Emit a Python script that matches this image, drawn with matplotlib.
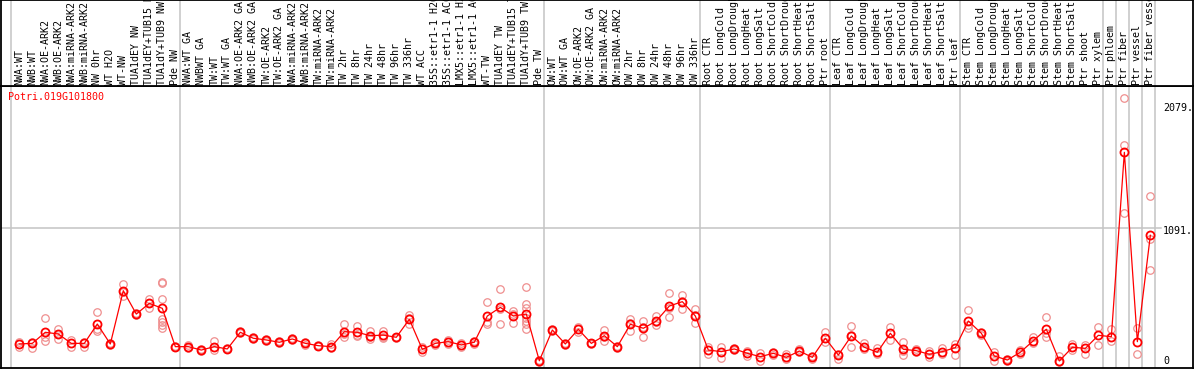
import matplotlib
matplotlib.use("Agg")
import matplotlib.pyplot as plt

gene = "Potri.019G101800"

labels = [
    "NWA:WT", "NWB:WT", "NWA:OE-ARK2", "NWB:OE-ARK2", "NWA:miRNA-ARK2", "NWB:miRNA-ARK2",
    "NW 0hr", "WT H2O", "WT-NW", "TUA1dEY NW", "TUA1dEY+TUB15 NW", "TUA1dY+TUB9 NW", "Pde NW",
    "NWA:WT GA", "NWBWT GA", "TW:WT", "TW:WT GA", "NWA:OE-ARK2 GA", "NWB:OE-ARK2 GA",
    "TW:OE-ARK2", "TW:OE-ARK2 GA", "NWA:miRNA-ARK2", "NWB:miRNA-ARK2", "TW:miRNA-ARK2",
    "TW:miRNA-ARK2", "TW 2hr", "TW 8hr", "TW 24hr", "TW 48hr", "TW 96hr", "TW 336hr",
    "WT ACC", "35S::etr1-1 H2O", "35S::etr1-1 ACC", "LMX5::etr1-1 H2O", "LMX5::etr1-1 ACC",
    "WT-TW", "TUA1dEY TW", "TUA1dEY+TUB15 TW", "TUA1dY+TUB9 TW", "Pde TW",
    "OW:WT", "OW:WT GA", "OW:OE-ARK2", "OW:OE-ARK2 GA", "OW:miRNA-ARK2", "OW:miRNA-ARK2",
    "OW 2hr", "OW 8hr", "OW 24hr", "OW 48hr", "OW 96hr", "OW 336hr",
    "Root CTR", "Root LongCold", "Root LongDrought", "Root LongHeat", "Root LongSalt",
    "Root ShortCold", "Root ShortDrought", "Root ShortHeat", "Root ShortSalt", "Ptr root",
    "Leaf CTR", "Leaf LongCold", "Leaf LongDrought", "Leaf LongHeat", "Leaf LongSalt",
    "Leaf ShortCold", "Leaf ShortDrought", "Leaf ShortHeat", "Leaf ShortSalt", "Ptr leaf",
    "Stem CTR", "Stem LongCold", "Stem LongDrought", "Stem LongHeat", "Stem LongSalt",
    "Stem ShortCold", "Stem ShortDrought", "Stem ShortHeat", "Stem ShortSalt", "Ptr shoot",
    "Ptr xylem", "Ptr phloem", "Ptr fiber", "Ptr vessel", "Ptr fiber vessel",
]

# index of first sample in each group (plus end)
group_starts = [0, 13, 41, 53, 63, 73, 84, 85, 86, 87, 88]

means = [
    140, 145, 236, 222, 145, 145, 304, 140, 578, 386, 474, 433, 118,
    118, 90, 118, 99, 236, 187, 173, 154, 181, 145, 126, 118, 241, 236, 208, 213, 195, 343,
    96, 145, 159, 132, 154, 370, 441, 370, 386, 2,
    255, 140, 261, 145, 208, 118, 302, 269, 329, 452, 488, 370,
    90, 77, 99, 63, 36, 63, 30, 82, 30, 187,
    49, 206, 113, 72, 228, 96, 85, 55, 77, 110,
    329, 228, 41, 8, 72, 167, 261, 0, 113, 104, 211,
    200, 1716, 159, 1034,
]

replicates = [
    [159, 113], [159, 104], [351, 164, 195], [263, 181, 222], [173, 113], [159, 113],
    [400, 249, 263], [148, 132], [633, 534, 567], [395, 377], [510, 433, 479],
    [652, 639, 507, 343, 320, 296, 269], [123, 113],
    [132, 104], [95, 85], [164, 90], [104, 95], [245, 228], [195, 180], [180, 166],
    [163, 145], [190, 172], [159, 132], [130, 122], [137, 108], [304, 200, 220],
    [290, 208, 210], [249, 181, 195], [249, 190, 200], [200, 190], [378, 302, 350],
    [77, 115], [159, 132], [173, 140], [118, 145], [168, 140], [483, 304, 322],
    [592, 304, 427], [414, 310, 386], [606, 469, 433, 350, 328, 304, 261], [5, -5],
    [264, 246], [150, 130], [277, 241], [150, 140], [255, 167, 200], [125, 110],
    [345, 249, 312], [329, 200, 278], [370, 318, 300], [562, 359, 435],
    [543, 425, 496], [425, 310, 375],
    [113, 55], [113, 27], [110, 88], [85, 40], [63, 3], [75, 50], [55, 20], [95, 70],
    [40, 20], [236, 159],
    [60, 16], [290, 113, 215], [145, 100], [104, 60], [282, 173], [159, 49, 80],
    [95, 75], [82, 30], [104, 60], [140, 49],
    [419, 269, 300], [240, 215], [77, 0], [20, 0], [90, 60], [195, 150],
    [359, 195, 230], [40, -10], [140, 90], [130, 60], [277, 132],
    [261, 164], [2160, 1774, 1215], [269, 55], [1360, 1001, 746],
]

ytick_vals = [2079, 1091, 0]
ytick_text = ["2079.", "1091.", "0"]
grid_val = 1091

W, H = 1194, 370
fig = plt.figure(figsize=(W / 100, H / 100), dpi=100)
plt.rcParams["font.family"] = ["DejaVu Sans Mono"]

ax = fig.add_axes([1 / W, (H - 368) / H, 1192 / W, (368 - 86) / H])
hx = fig.add_axes([1 / W, (H - 86) / H, 1192 / W, 86 / H])

xl = (-1.408, 90.28)
for a in (ax, hx):
    a.set_xlim(*xl)
    a.set_xticks([])
    a.set_yticks([])
    for s in a.spines.values():
        s.set_color("black")
        s.set_linewidth(1.3)
    for g in group_starts:
        a.axvline(g - 0.66, color="#c4c4c4", lw=1.1, zorder=1)

ax.set_ylim(-57.6, 2261.5)
hx.set_ylim(0, 86)

ax.axhline(grid_val, xmin=0, xmax=0.973, color="#c4c4c4", lw=1.1, zorder=1)

n = len(means)
xs = list(range(n))
for i, reps in enumerate(replicates):
    ax.plot([i] * len(reps), reps, linestyle="none", marker="o", ms=5.4,
            mfc="none", mec="#ef8f8f", mew=0.9, zorder=2)
ax.plot(xs, means, color="#ff0000", lw=0.9, marker="o", ms=5.8, mfc="none",
        mec="#ff0000", mew=1.3, zorder=3)

for i, lab in enumerate(labels):
    hx.text(i, 1, lab, rotation=90, ha="center", va="bottom", fontsize=7.2,
            color="black", clip_on=True)

ax.text(7 / 1192, (368 - 97) / 282, gene, transform=ax.transAxes, color="#ff0000",
        fontsize=7.2, va="center", ha="left")

tr = ax.get_yaxis_transform()
offs = {2079: 0, 1091: -22, 0: 0}
for v, t in zip(ytick_vals, ytick_text):
    ax.text((1163 - 1) / 1192, v + offs[v], t, transform=tr, fontsize=7.2,
            va="center", ha="left", color="black", clip_on=True)

fig.savefig("out.png", dpi=100)
